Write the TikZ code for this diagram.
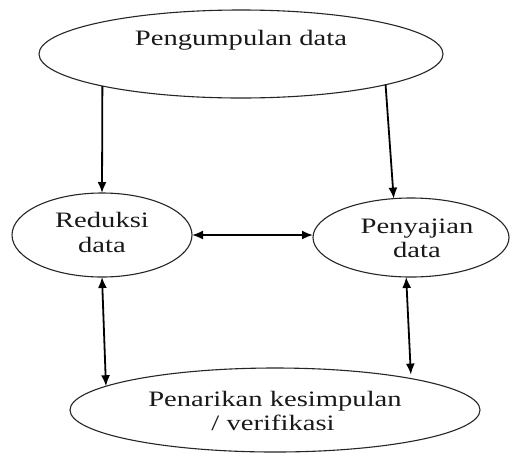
\documentclass[tikz,border=0pt]{standalone}
\usepackage{fontspec}
\setmainfont{Liberation Serif}
\newfontfamily\lserif{Liberation Serif}
\usetikzlibrary{shapes.geometric,arrows.meta,calc}
\begin{document}
\begin{tikzpicture}[x=1pt,y=-1pt,
  oval/.style={draw=black!85,line width=1.1pt,ellipse,inner sep=0pt,outer sep=0pt},
  lbl/.style={anchor=base,inner sep=0pt,xscale=1.3,text=black!90,font=\lserif\fontsize{22}{24}\selectfont},
  tip/.style={},
  arr/.style={line width=1.8pt,-{Latex[length=11pt,width=9pt]}},
  darr/.style={line width=1.8pt,{Latex[length=11pt,width=9pt]}-{Latex[length=11pt,width=9pt]}}]
\useasboundingbox[fill=white] (0,0) rectangle (510,453);
% ellipses
\node[oval,minimum width=404pt,minimum height=88pt] (top) at (241,54) {};
\node[oval,minimum width=180pt,minimum height=84pt] (red) at (102,235) {};
\node[oval,minimum width=196pt,minimum height=79pt] (pen) at (411,237.5) {};
\node[oval,minimum width=410pt,minimum height=84pt] (kes) at (275,410) {};
% labels
\node[lbl] (t1) at (241,45) {Pengumpulan data};
\node[lbl] (r1) at (102,227) {Reduksi};
\node[lbl] (r2) at (102,252) {data};
\node[lbl] (p1) at (417,233) {Penyajian};
\node[lbl] (p2) at (417,257) {data};
\node[lbl] (k1) at (275,406) {Penarikan kesimpulan};
\node[lbl] (k2) at (273,430) {/ verifikasi};
% connectors
\draw[arr] (top.193) -- (red.north);
\draw[arr] (top.348.5) -- (pen.114);
\draw[darr] (red.east) -- (red.east -| pen.west);
\draw[darr] (red.south) -- (kes.172.5);
\draw[darr,shorten >=4pt] (pen.263) -- (kes.13.6);
\end{tikzpicture}
\end{document}
